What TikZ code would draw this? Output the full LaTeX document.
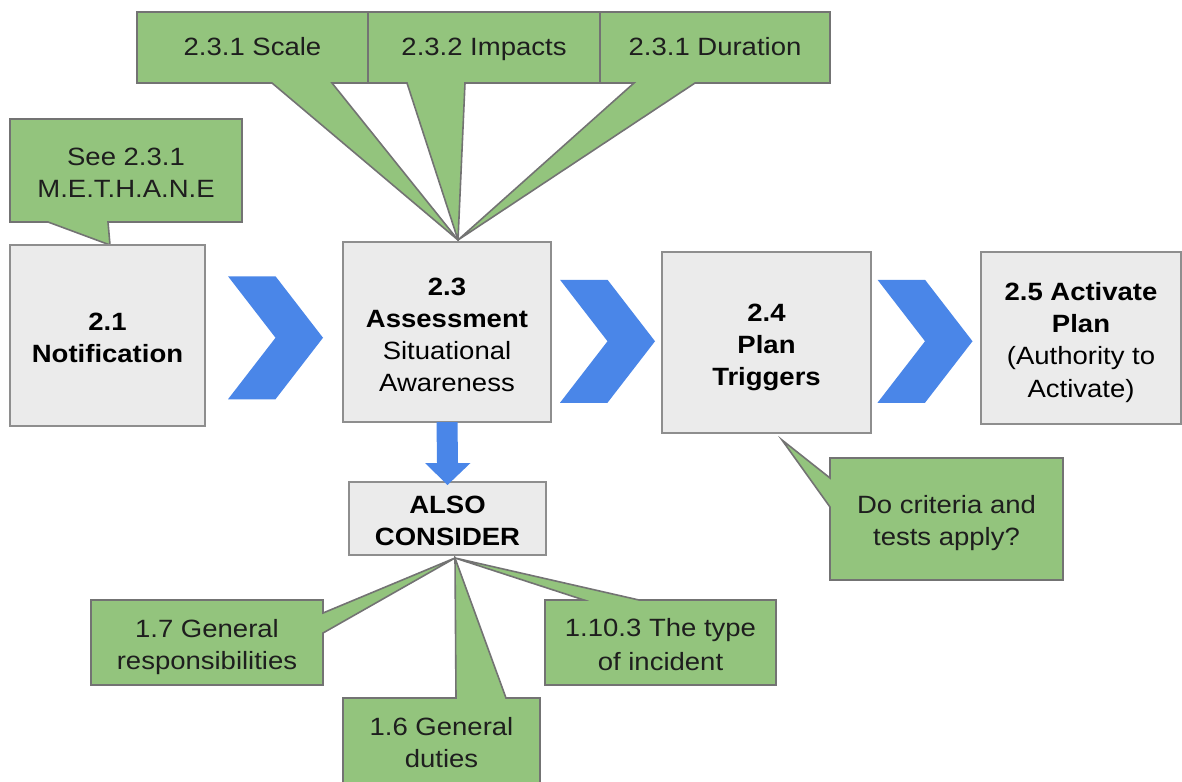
\documentclass[tikz,border=0pt]{standalone}
\usepackage{fontspec}
\setmainfont{Liberation Sans}[FakeStretch=1.1]
\usetikzlibrary{calc,backgrounds}

\definecolor{calloutgreen}{HTML}{93C47D}
\definecolor{calloutedge}{HTML}{737373}
\definecolor{notetext}{HTML}{1E1E1E}
\definecolor{boxgray}{HTML}{EBEBEB}
\definecolor{boxedge}{HTML}{8E8E8E}
\definecolor{flowblue}{HTML}{4A86E8}

% fixed line strut so every text line sits the same way
\newcommand\linestrut{\rule[-5pt]{0pt}{32pt}}
\newcommand\onestrut{\rule[-8pt]{0pt}{32pt}}

\begin{document}
\begin{tikzpicture}[x=1pt,y=-1pt,
  label text/.style={font=\fontsize{25}{32}\selectfont, align=center, inner sep=0pt, outer sep=0pt},
  stepbox/.style={label text, draw=boxedge, fill=boxgray, line width=1.6pt, text=black},
  notebox/.style={label text, text=notetext},
  callout/.style={draw=calloutedge, fill=calloutgreen, line width=1.6pt, line join=miter},
  chevron/.pic={\fill[flowblue] (-47.5,-61.5) -- (0,-61.5) -- (47.5,0) -- (0,61.5) -- (-47.5,61.5) -- (0,0) -- cycle;}
]
\useasboundingbox (0,0) rectangle (1182,781);
\clip (0,0) rectangle (1182,781);

% process steps
\node[stepbox, minimum width=195, minimum height=181] (n21) at (107.5,335.5)
  {\linestrut\textbf{2.1}\\\linestrut\textbf{Notification}};
\node[stepbox, minimum width=208, minimum height=180] (n23) at (447,332)
  {\linestrut\textbf{2.3}\\\linestrut\textbf{Assessment}\\\linestrut Situational\\\linestrut Awareness};
\node[stepbox, minimum width=209, minimum height=181] (n24) at (766.5,342.5)
  {\linestrut\textbf{2.4}\\\linestrut\textbf{Plan}\\\linestrut\textbf{Triggers}};
\node[stepbox, minimum width=200, minimum height=172] (n25) at (1081,338)
  {\linestrut\textbf{2.5 Activate}\\\linestrut\textbf{Plan}\\\linestrut(Authority to\\\linestrut Activate)};
\node[stepbox, minimum width=197, minimum height=73] (ac) at (447.5,518.5)
  {\linestrut\textbf{ALSO}\\\linestrut\textbf{CONSIDER}};

% callout texts
\node[notebox, minimum width=231, minimum height=71] (sc) at (252.5,47.5) {\onestrut 2.3.1 Scale};
\node[notebox, minimum width=232, minimum height=71] (im) at (484,47.5) {\onestrut 2.3.2 Impacts};
\node[notebox, minimum width=230, minimum height=71] (du) at (715,47.5) {\onestrut 2.3.1 Duration};
\node[notebox, minimum width=232, minimum height=103] (me) at (126,170.5)
  {\linestrut See 2.3.1\\\linestrut M.E.T.H.A.N.E};
\node[notebox, minimum width=233, minimum height=122] (dc) at (946.5,519)
  {\linestrut Do criteria and\\\linestrut tests apply?};
\node[notebox, minimum width=232, minimum height=85] (gr) at (207,642.5)
  {\linestrut 1.7 General\\\linestrut responsibilities};
\node[notebox, minimum width=231, minimum height=85] (ty) at (660.5,642.5)
  {\linestrut 1.10.3 The type\\\linestrut of incident};
% this box runs on past the lower edge of the picture
\node[notebox, minimum width=197, minimum height=100] (gd) at (441.5,748)
  {\linestrut 1.6 General\\\linestrut duties\rule[-21pt]{0pt}{0pt}};

% points the callout tails run to
\coordinate (tipA) at ($(n23.north)+(11,-2)$);
\coordinate (tipM) at ($(n21.north)+(2.5,0)$);
\coordinate (tipD) at ($(n24.south)+(15.5,7)$);
\coordinate (tipC) at ($(ac.south)+(7.5,3)$);

% callout shapes behind their texts
\begin{scope}[on background layer]
  \draw[callout] (sc.north west) -- (sc.north east) -- (sc.south east)
    -- ($(sc.south west)+(195,0)$) -- (tipA) -- ($(sc.south west)+(135,0)$) -- (sc.south west) -- cycle;
  \draw[callout] (im.north west) -- (im.north east) -- (im.south east)
    -- ($(im.south west)+(97,0)$) -- (tipA) -- ($(im.south west)+(39,0)$) -- (im.south west) -- cycle;
  \draw[callout] (du.north west) -- (du.north east) -- (du.south east)
    -- ($(du.south west)+(95,0)$) -- (tipA) -- ($(du.south west)+(34,0)$) -- (du.south west) -- cycle;
  \draw[callout] (me.north west) -- (me.north east) -- (me.south east)
    -- ($(me.south west)+(98,0)$) -- (tipM) -- ($(me.south west)+(38,0)$) -- (me.south west) -- cycle;
  \draw[callout] (dc.north west) -- (dc.north east) -- (dc.south east) -- (dc.south west)
    -- ($(dc.north west)+(0,49)$) -- (tipD) -- ($(dc.north west)+(0,20)$) -- cycle;
  \draw[callout] (gr.north west) -- (gr.north east) -- ($(gr.north east)+(0,13)$) -- (tipC)
    -- ($(gr.north east)+(0,33)$) -- (gr.south east) -- (gr.south west) -- cycle;
  \draw[callout] (ty.north west) -- ($(ty.north west)+(39,0)$) -- (tipC) -- ($(ty.north west)+(94,0)$)
    -- (ty.north east) -- (ty.south east) -- (ty.south west) -- cycle;
  \draw[callout] (gd.north west) -- ($(gd.north west)+(113,0)$) -- (tipC) -- ($(gd.north west)+(163,0)$)
    -- (gd.north east) -- (gd.south east) -- (gd.south west) -- cycle;
\end{scope}

% flow chevrons between the steps
\pic at ($(n21.east)!0.5!(n23.west)+(1.5,4)$) {chevron};
\pic at ($(n23.east)!0.5!(n24.west)+(1,4)$) {chevron};
\pic at ($(n24.east)!0.5!(n25.west)+(-1,1)$) {chevron};

% down arrow from assessment to "also consider"
\fill[flowblue] ($(n23.south)+(-10.5,0)$) -- ($(n23.south)+(10.5,0)$)
  -- ($(ac.north)+(10.5,-19)$) -- ($(ac.north)+(23,-19)$) -- ($(ac.north)+(0,3)$)
  -- ($(ac.north)+(-22.5,-19)$) -- ($(ac.north)+(-10.5,-19)$) -- cycle;
\end{tikzpicture}
\end{document}
